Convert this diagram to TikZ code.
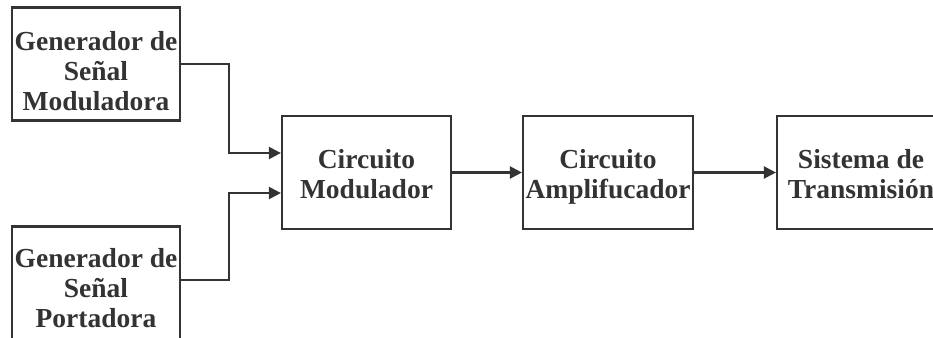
\documentclass[tikz,border=0pt]{standalone}
\usepackage{fontspec}
\setmainfont{Liberation Serif}
\usetikzlibrary{arrows.meta}
\definecolor{ink}{HTML}{333333}
\begin{document}
\begin{tikzpicture}[x=1pt,y=-1pt,
  block/.style={draw=ink,line width=2.2pt,rectangle,inner sep=0pt,
    minimum width=168pt,minimum height=113pt},
  caption/.style={anchor=north,inner sep=0pt,align=center,text=ink,
    font=\bfseries\fontsize{27.5}{30}\selectfont},
  link/.style={draw=ink,line width=2.2pt,
    -{Triangle[length=12pt,width=12pt]}}]
  \useasboundingbox (0,0) rectangle (933,337);
  \clip (0,0) rectangle (933,337);

  % blocks
  \node[block] (genmod) at (96,64) {};
  \node[block] (genpor) at (96,283) {};
  \node[block,minimum width=169pt] (modul) at (366.5,172.5) {};
  \node[block,minimum width=170pt] (ampl) at (608,172.5) {};
  \node[block,minimum width=170pt] (trans) at (862,172.5) {};

  % block texts
  \node[caption] (tgenmod) at (96,31) {Generador de\\Señal\\Moduladora};
  \node[caption] (tgenpor) at (96,248) {Generador de\\Señal\\Portadora};
  \node[caption] (tmodul) at (366.5,149.5) {Circuito\\Modulador};
  \node[caption] (tampl) at (608,149.5) {Circuito\\Amplifucador};
  \node[caption] (ttrans) at (861,149.5) {Sistema de\\Transmisión};

  % connectors
  \coordinate (inA) at ([yshift=19.5pt]modul.west);
  \coordinate (inB) at ([yshift=-20.5pt]modul.west);
  \draw[link] (genmod.east) -| (229,110) |- (inA);
  \draw[link] ([yshift=3pt]genpor.east) -| (229,230) |- (inB);
  \draw[link] (modul.east) -- (ampl.west);
  \draw[link] (ampl.east) -- (trans.west);
\end{tikzpicture}
\end{document}
